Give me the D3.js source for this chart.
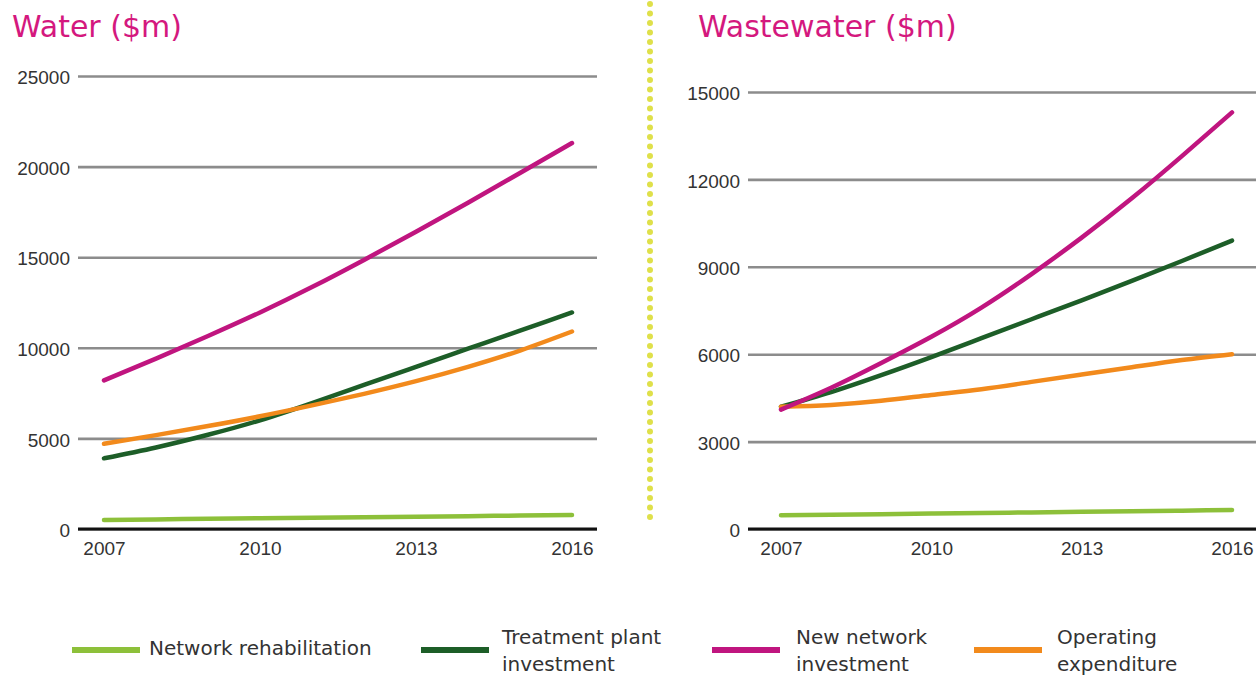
<!DOCTYPE html>
<html>
<head>
<meta charset="utf-8">
<script src="https://cdn.jsdelivr.net/npm/d3@7"></script>
<style>
  body { margin: 0; background: #fff; }
  svg { display: block; font-family: "DejaVu Sans", sans-serif; }
</style>
</head>
<body>
<script>
var w = 1256, h = 677;

// data
var years = [2007, 2008, 2009, 2010, 2011, 2012, 2013, 2014, 2015, 2016];
var yearTicks = [2007, 2010, 2013, 2016];

var waterRehab     = [500, 530, 560, 590, 620, 650, 680, 710, 740, 770];
var waterTreatment = [3900, 4500, 5200, 6000, 6950, 7950, 8950, 9950, 10950, 11950];
var waterNew       = [8200, 9400, 10650, 11950, 13350, 14850, 16400, 18000, 19650, 21300];
var waterOpex      = [4700, 5180, 5680, 6220, 6820, 7460, 8160, 8950, 9850, 10900];

var wasteRehab     = [470, 490, 510, 530, 550, 570, 590, 610, 630, 650];
var wasteTreatment = [4200, 4700, 5280, 5900, 6550, 7200, 7850, 8520, 9200, 9900];
var wasteNew       = [4100, 4850, 5700, 6600, 7600, 8750, 10000, 11350, 12800, 14300];
var wasteOpex      = [4200, 4260, 4400, 4600, 4800, 5050, 5300, 5550, 5800, 6000];

var waterTicks = [0, 5000, 10000, 15000, 20000, 25000];
var wasteTicks = [0, 3000, 6000, 9000, 12000, 15000];

var seriesNames = ["Network rehabilitation", "Treatment plant investment", "New network investment", "Operating expenditure"];
var legendLines = [["Network rehabilitation"], ["Treatment plant", "investment"], ["New network", "investment"], ["Operating", "expenditure"]];
var colors = ["#8dc03a", "#1d5e28", "#c0157f", "#f28a1c"];

var svg = d3.select("body").append("svg")
    .attr("width", w)
    .attr("height", h);

function drawPanel(opt) {
    var x = d3.scaleLinear().domain([2007, 2016]).range(opt.xr);
    var y = d3.scaleLinear().domain([0, opt.ymax]).range([529, opt.ytop]);

    var g = svg.append("g");

    // title
    g.append("text")
        .attr("x", opt.titleX)
        .attr("y", 37)
        .text(opt.title)
        .style("font-size", "30px")
        .style("fill", "#d4187e");

    // y axis + grid
    var ya = g.append("g")
        .attr("transform", "translate(" + opt.gx[0] + ",0)")
        .call(d3.axisLeft(y).tickValues(opt.ticks).tickSize(-(opt.gx[1] - opt.gx[0])).tickPadding(8).tickFormat(d3.format("d")));
    ya.select(".domain").remove();
    ya.selectAll("line").style("stroke", "#8c8c8c").style("stroke-width", "2.6px");
    ya.selectAll("text").style("font-size", "19px").style("fill", "#333").attr("dy", "0.4em");

    // zero line
    g.append("line")
        .attr("x1", opt.gx[0]).attr("x2", opt.gx[1])
        .attr("y1", y(0)).attr("y2", y(0))
        .style("stroke", "#111")
        .style("stroke-width", "3px");

    // x axis
    var xa = g.append("g")
        .attr("transform", "translate(0," + y(0) + ")")
        .call(d3.axisBottom(x).tickValues(yearTicks).tickSize(0).tickPadding(13).tickFormat(d3.format("d")));
    xa.select(".domain").remove();
    xa.selectAll("text").style("font-size", "19px").style("fill", "#333");

    var line = d3.line()
        .x(function(d, i) { return x(years[i]); })
        .y(function(d) { return y(d); })
        .curve(d3.curveNatural);

    // draw order: rehab, treatment, opex, new
    g.selectAll("path.series").data(opt.series).enter().append("path")
        .attr("class", "series")
        .attr("d", function(d) { return line(d.v); })
        .style("fill", "none")
        .style("stroke", function(d) { return colors[d.c]; })
        .style("stroke-width", "4.5px")
        .style("stroke-linecap", "round");
}

drawPanel({
    title: "Water ($m)", titleX: 12,
    xr: [104, 572], gx: [78, 597], ymax: 25000, ytop: 76,
    ticks: waterTicks,
    series: [{v: waterRehab, c: 0}, {v: waterTreatment, c: 1}, {v: waterOpex, c: 3}, {v: waterNew, c: 2}]
});

drawPanel({
    title: "Wastewater ($m)", titleX: 698,
    xr: [781, 1232], gx: [748, 1262], ymax: 15000, ytop: 92,
    ticks: wasteTicks,
    series: [{v: wasteRehab, c: 0}, {v: wasteTreatment, c: 1}, {v: wasteOpex, c: 3}, {v: wasteNew, c: 2}]
});

// dotted divider
svg.append("line")
    .attr("x1", 650).attr("x2", 650)
    .attr("y1", 4).attr("y2", 520)
    .style("stroke", "#dfe04a")
    .style("stroke-width", "6px")
    .style("stroke-linecap", "round")
    .style("stroke-dasharray", "0 9.5");

// legend
var legX = [72, 421, 712, 974];
var legTextX = [149, 502, 796, 1057];
var lg = svg.selectAll("g.leg").data(seriesNames).enter().append("g")
    .attr("class", "leg");

lg.append("line")
    .attr("x1", function(d, i) { return legX[i]; })
    .attr("x2", function(d, i) { return legX[i] + 68; })
    .attr("y1", 650).attr("y2", 650)
    .style("stroke", function(d, i) { return colors[i]; })
    .style("stroke-width", "6px");

lg.each(function(d, i) {
    var ls = legendLines[i];
    var t = d3.select(this).append("text")
        .style("font-size", "20px")
        .style("fill", "#333");
    ls.forEach(function(s, j) {
        t.append("tspan")
            .attr("x", legTextX[i])
            .attr("y", ls.length == 1 ? 655 : 644 + j * 27)
            .text(s);
    });
});
</script>
</body>
</html>
